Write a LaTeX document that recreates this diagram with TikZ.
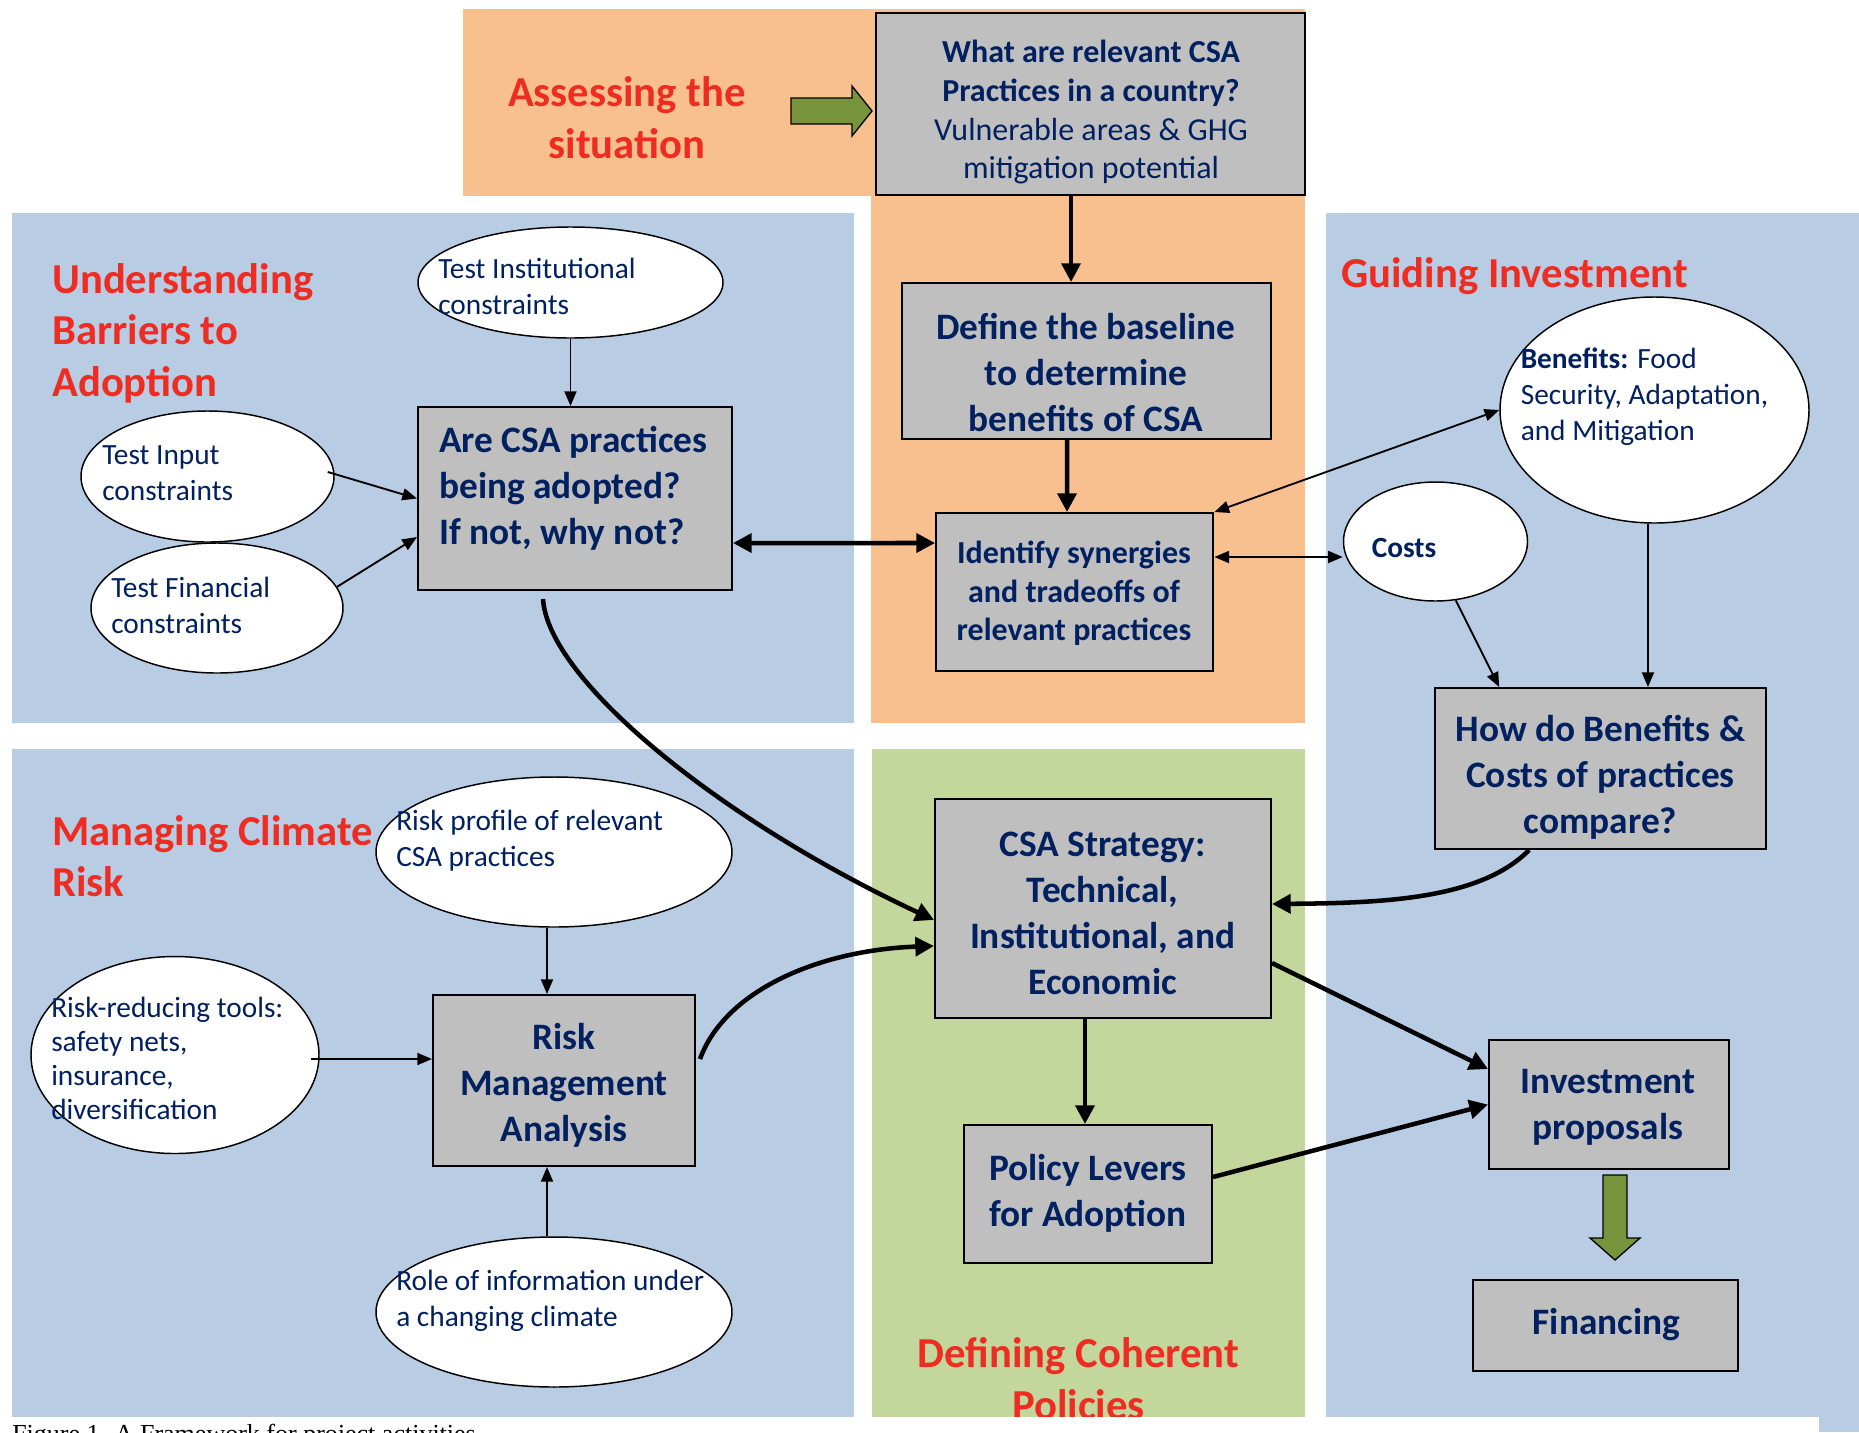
\documentclass[tikz,border=0pt]{standalone}
\usepackage{fontspec}
\setmainfont{Carlito}
\newfontfamily\capfont{Liberation Serif}
\usetikzlibrary{shapes.geometric,arrows.meta}
\definecolor{bgorange}{HTML}{F8C08F}
\definecolor{bgblue}{HTML}{B8CCE4}
\definecolor{bggreen}{HTML}{C3D69B}
\definecolor{boxgray}{HTML}{BFBFBF}
\definecolor{navy}{HTML}{002060}
\definecolor{hred}{HTML}{EE2C22}
\definecolor{arrgreen}{HTML}{77933C}
\begin{document}
\begin{tikzpicture}[x=0.75pt,y=-0.75pt,
  box/.style={draw=black,line width=1.5pt,fill=boxgray,inner sep=0pt},
  btext/.style={text=navy,font=\fontsize{28}{34.5}\selectfont\bfseries,align=center,inner sep=0pt},
  stext/.style={text=navy,font=\fontsize{24}{29}\selectfont\bfseries,align=center,inner sep=0pt},
  ttext/.style={text=navy,font=\fontsize{24}{29}\selectfont,align=center,inner sep=0pt},
  oval/.style={ellipse,draw=black,line width=1.1pt,fill=white,inner sep=0pt},
  otext/.style={text=navy,font=\fontsize{22}{27}\selectfont,align=left,inner sep=0pt,anchor=west},
  head/.style={text=hred,font=\fontsize{32}{38.6}\selectfont\bfseries,inner sep=0pt},
  thin/.style={line width=1.4pt,-{Triangle[length=11pt,width=9pt]}},
  thinboth/.style={line width=1.4pt,{Triangle[length=11pt,width=9pt]}-{Triangle[length=11pt,width=9pt]}},
  thick/.style={line width=3.4pt,-{Triangle[length=14pt,width=14pt]}},
  thickboth/.style={line width=3.4pt,{Triangle[length=14pt,width=14pt]}-{Triangle[length=14pt,width=14pt]}},
  blockarrow/.style={draw=black,line width=1pt,fill=arrgreen,line join=miter}
]
\useasboundingbox (0,0) rectangle (1859,1432);
\clip (0,0) rectangle (1859,1432);
\fill[white] (0,0) rectangle (1859,1432);

% panels
\fill[bgorange] (463,9) rectangle (1305,196);
\fill[bgorange] (871,196) rectangle (1305,723);
\fill[bgblue] (11.5,213) rectangle (854,723);
\fill[bgblue] (11.5,749) rectangle (854,1417);
\fill[bggreen] (872,749) rectangle (1305,1417);
\fill[bgblue] (1326,213) rectangle (1859,1432);

% section headings
\node[head,align=center] (assess) at (627,117.5) {Assessing the\\situation};
\node[head,align=left,anchor=west] (under) at (52,333) {Understanding\\Barriers to\\Adoption};
\node[head,align=left,anchor=west] (guide) at (1341,276) {Guiding Investment};
\node[head,align=left,anchor=west] (manage) at (52,856) {Managing Climate\\Risk};
\node[head,align=center] (define) at (1078.5,1378.5) {Defining Coherent\\Policies};

% boxes
\node[box,minimum width=321.75pt,minimum height=136.5pt] (top) at (1090.5,104) {};
\node[box,minimum width=276.75pt,minimum height=117pt] (base) at (1086.5,361) {};
\node[box,minimum width=208pt,minimum height=118.5pt] (ident) at (1074.75,592) {};
\node[box,minimum width=235.5pt,minimum height=137.25pt] (are) at (575,498.5) {};
\node[box,minimum width=248.25pt,minimum height=120.75pt] (how) at (1600.5,768.5) {};
\node[box,minimum width=252pt,minimum height=164.25pt] (csa) at (1103,908.5) {};
\node[box,minimum width=186pt,minimum height=103.5pt] (pol) at (1088,1194) {};
\node[box,minimum width=196.5pt,minimum height=128.25pt] (riskm) at (564,1080.5) {};
\node[box,minimum width=180pt,minimum height=96.75pt] (inv) at (1609,1104.5) {};
\node[box,minimum width=198.75pt,minimum height=68.25pt] (fin) at (1605.5,1325.5) {};

% box texts
\node[ttext] (topT) at (1091,112.5) {\textbf{What are relevant CSA}\\\textbf{Practices in a country?}\\Vulnerable areas \& GHG\\mitigation potential};
\node[btext] (baseT) at (1086,372.5) {Define the baseline\\to determine\\benefits of CSA};
\node[stext] (identT) at (1074,593.5) {Identify synergies\\and tradeoffs of\\relevant practices};
\node[btext,align=left,anchor=west] (areT) at (439,488.7) {Are CSA practices\\being adopted?\\If not, why not?};
\node[btext] (howT) at (1600.5,777.5) {How do Benefits \&\\Costs of practices\\compare?};
\node[btext] (csaT) at (1102.7,913) {CSA Strategy:\\Technical,\\Institutional, and\\Economic};
\node[btext] (polT) at (1088,1193) {Policy Levers\\for Adoption};
\node[btext] (riskmT) at (564,1085) {Risk\\Management\\Analysis};
\node[btext] (invT) at (1608,1107) {Investment\\proposals};
\node[btext] (finT) at (1606.5,1325) {Financing};

% ellipses
\node[oval,minimum width=228.75pt,minimum height=83.25pt] (inst) at (570.5,282.5) {};
\node[oval,minimum width=189.75pt,minimum height=98.25pt] (input) at (207.5,476.5) {};
\node[oval,minimum width=189pt,minimum height=97.5pt] (finc) at (217,608) {};
\node[oval,minimum width=231.75pt,minimum height=169.5pt] (bene) at (1654.5,410) {};
\node[oval,minimum width=138pt,minimum height=89.25pt] (costs) at (1435.5,541.5) {};
\node[oval,minimum width=267pt,minimum height=112.5pt] (rprof) at (554,852) {};
\node[oval,minimum width=216pt,minimum height=147.75pt] (rred) at (175,1055) {};
\node[oval,minimum width=267pt,minimum height=112.5pt] (role) at (554,1312) {};

% ellipse texts
\node[otext] (instT) at (438,286) {Test Institutional\\constraints};
\node[otext] (inputT) at (102,473) {Test Input\\constraints};
\node[otext] (fincT) at (111,605) {Test Financial\\constraints};
\node[otext] (beneT) at (1520.5,397) {\textbf{Benefits:} Food\\Security, Adaptation,\\and Mitigation};
\node[otext,font=\fontsize{22}{27}\selectfont\bfseries] (costsT) at (1371.5,548) {Costs};
\node[otext] (rprofT) at (396,841) {Risk profile of relevant\\CSA practices};
\node[otext,font=\fontsize{22}{25.7}\selectfont] (rredT) at (51,1058.5) {Risk-reducing tools:\\safety nets,\\insurance,\\diversification};
\node[otext] (roleT) at (396,1301) {Role of information under\\a changing climate};

% connectors
\draw[thick] ([xshift=-14.6pt]top.south) -- ([xshift=-11.6pt]base.north);
\draw[thick] ([xshift=-14.6pt]base.south) -- ([xshift=-5.8pt]ident.north);
\draw[thickboth] ([yshift=-33.4pt]are.east) -- ([yshift=36.75pt]ident.west);
\draw[thinboth] (ident.north east) -- (bene.west);
\draw[thinboth] ([yshift=26.25pt]ident.east) -- ([yshift=26.25pt]ident.east -| costs.west);
\draw[thin] (costs.-71) -- ([xshift=-76pt]how.north);
\draw[thin] ([xshift=-4.9pt]bene.south) -- ([xshift=-4.9pt]bene.south |- how.north);
\draw[thin] (inst.south) -- (inst.south |- are.north);
\draw[thin] ([xshift=-5.25pt,yshift=3.4pt]input.east) -- (are.west);
\draw[thin] (finc.10) -- ([yshift=-28.9pt]are.west);
\draw[thick] ([xshift=-24pt,yshift=-6pt]are.south) .. controls (548,680) and (720,820) .. ([yshift=-8.6pt]csa.west);
\draw[thick] ([xshift=3pt,yshift=16.1pt]riskm.east) .. controls (725,990) and (820,950) .. ([yshift=-28.1pt]csa.west);
\draw[thick] ([xshift=-53.6pt]how.south) .. controls (1480,900) and (1380,903) .. ([yshift=3.4pt]csa.east);
\draw[thick] ([yshift=-40.9pt]csa.east) -- ([yshift=26.6pt]inv.west);
\draw[thick] ([yshift=12.75pt]pol.east) -- (inv.west);
\draw[thick] ([xshift=-13.5pt]csa.south) -- ([xshift=-2.25pt]pol.north);
\draw[thin] ([xshift=-5.25pt]rprof.south) -- ([xshift=-12.75pt]riskm.north);
\draw[thin] ([xshift=-6.75pt,yshift=-3pt]rred.east) -- ([yshift=-3pt]rred.east -| riskm.west);
\draw[thin] ([xshift=-5.25pt]role.north) -- ([xshift=-12.75pt]riskm.south);

% green block arrows
\draw[blockarrow] (791,98) -- (852,98) -- (852,86) -- (872,111) -- (852,136) -- (852,124) -- (791,124) -- cycle;
\draw[blockarrow] (1603,1175) -- (1627,1175) -- (1627,1238) -- (1640,1238) -- (1615,1260) -- (1590,1238) -- (1603,1238) -- cycle;

% caption strip
\fill[white] (0,1417) rectangle (1819,1432);
\node[anchor=base west,inner sep=0pt,font=\capfont\fontsize{19.5}{23}\selectfont] (cap) at (12,1442) {Figure 1. A Framework for project activities};
\end{tikzpicture}
\end{document}
